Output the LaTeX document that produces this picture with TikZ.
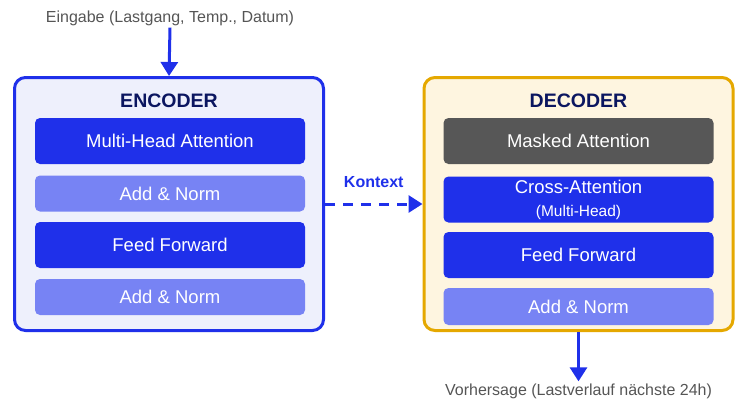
\documentclass[tikz,border=0pt]{standalone}
\usepackage{fontspec}
\setmainfont{Liberation Sans}
\usetikzlibrary{arrows.meta}
\definecolor{blau}{HTML}{1F30EA}
\definecolor{hellblau}{HTML}{7783F4}
\definecolor{navy}{HTML}{0B1660}
\definecolor{dunkelgrau}{HTML}{575757}
\definecolor{textgrau}{HTML}{555555}
\definecolor{encfill}{HTML}{EEF0FC}
\definecolor{decfill}{HTML}{FEF5E0}
\definecolor{gold}{HTML}{E5A800}

\begin{document}
\begin{tikzpicture}[x=1pt, y=-1pt]
\tikzset{blockbox/.style={draw, line width=3pt, rounded corners=11pt, minimum width=309pt, minimum height=253pt},
  schicht/.style={rounded corners=5pt, minimum width=270pt, text=white, font=\fontsize{18.5}{21}\selectfont},
  titel/.style={font=\fontsize{19.5}{22}\selectfont\bfseries, text=navy},
  beschr/.style={font=\fontsize{16}{19}\selectfont, text=textgrau, inner sep=2pt},
  pfeil/.style={draw=blau, line width=3pt, -{Triangle[length=14pt, width=17pt]}}}
\useasboundingbox (0,0) rectangle (740,400);
% Encoder
\node[blockbox, draw=blau, fill=encfill] (enc) at (169,204) {};
\node[titel] (enctitel) at (169,101) {ENCODER};
\node[schicht, fill=blau, minimum height=46pt] (encmha) at (170,141) {Multi-Head Attention};
\node[schicht, fill=hellblau, minimum height=36pt] (encan1) at (170,193.5) {Add \& Norm};
\node[schicht, fill=blau, minimum height=46pt] (encff) at (170,245) {Feed Forward};
\node[schicht, fill=hellblau, minimum height=36pt] (encan2) at (170,297) {Add \& Norm};
% Decoder
\node[blockbox, draw=gold, fill=decfill] (dec) at (578.5,204) {};
\node[titel] (dectitel) at (578.5,101) {DECODER};
\node[schicht, fill=dunkelgrau, minimum height=46pt] (decma) at (578.5,141) {Masked Attention};
\node[schicht, fill=blau, minimum height=46pt, align=center, inner sep=1pt] (decca) at (578.5,199.5) {Cross-Attention\\[2pt]{\fontsize{15.5}{18}\selectfont (Multi-Head)}};
\node[schicht, fill=blau, minimum height=46pt] (decff) at (578.5,255) {Feed Forward};
\node[schicht, fill=hellblau, minimum height=37pt] (decan) at (578.5,306.5) {Add \& Norm};
% Ein- und Ausgabe
\node[beschr] (inp) at (170,18) {Eingabe (Lastgang, Temp., Datum)};
\node[beschr] (outp) at (578.5,391) {Vorhersage (Lastverlauf nächste 24h)};
\draw[pfeil] (inp.south) -- (enc.north);
\draw[pfeil] (dec.south) -- (outp.north);
% Kontext
\draw[pfeil, dash pattern=on 10pt off 8pt] (enc.east) -- node[above=12pt, font=\fontsize{16}{19}\selectfont\bfseries, text=blau] (kontext) {Kontext} (dec.west);
\end{tikzpicture}
\end{document}
